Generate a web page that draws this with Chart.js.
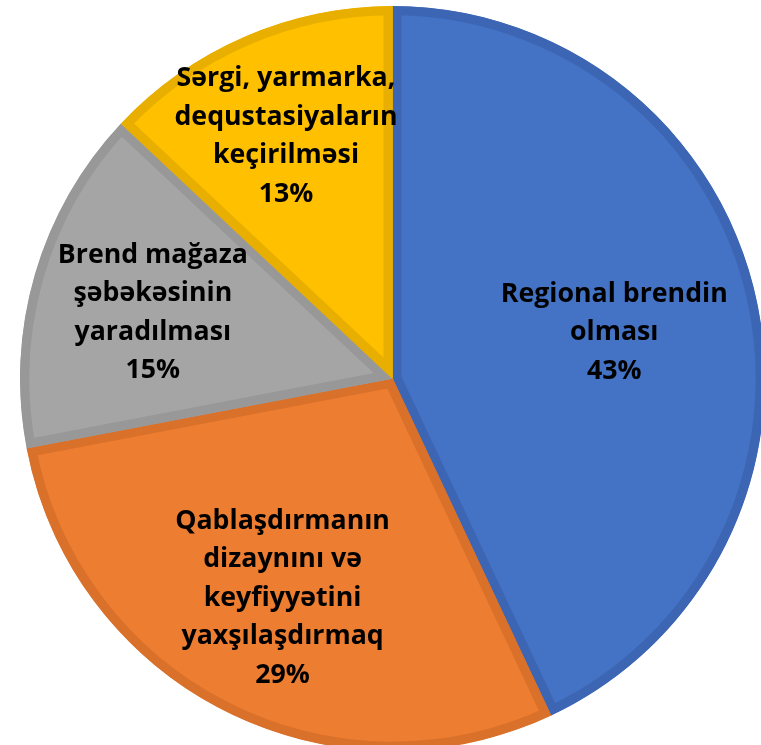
<!DOCTYPE html>
<html>
<head>
<meta charset="utf-8">
<script src="https://cdn.jsdelivr.net/npm/chart.js@4/dist/chart.umd.min.js"></script>
<style>
  html, body { margin: 0; padding: 0; background: #fff; overflow: hidden; }
  #wrap { position: absolute; left: 0; top: 0; width: 800px; height: 770px; }
</style>
</head>
<body>
<div id="wrap"><canvas id="pie" width="800" height="770"></canvas></div>
<script>
// chart data
const labels = [
  ["Regional brendin", "olması"],
  ["Qablaşdırmanın", "dizaynını və", "keyfiyyətini", "yaxşılaşdırmaq"],
  ["Brend mağaza", "şəbəkəsinin", "yaradılması"],
  ["Sərgi, yarmarka,", "dequstasiyaların", "keçirilməsi"]
]
const values = [43, 29, 15, 13]
const percentLabels = ["43%", "29%", "15%", "13%"]

const fillColors = ["#4472C4", "#ED7D31", "#A5A5A5", "#FFC000"]
const edgeColors = ["#3C66B3", "#D9712B", "#989898", "#E8AE00"]
// how far out (fraction of radius) each label block sits
const labelDist = [0.61, 0.65, 0.67, 0.72]

// draws the multi-line labels inside each slice
let SliceLabels = {
  id: "sliceLabels",
  afterDatasetsDraw(chart) {
    const ctx = chart.ctx
    const meta = chart.getDatasetMeta(0)
    const lineH = 38.5
    ctx.save()
    ctx.fillStyle = "#000"
    ctx.font = "bold 26px 'Open Sans', 'Noto Sans', sans-serif"
    ctx.textAlign = "center"
    ctx.textBaseline = "middle"
    // Calibri-like proportions: squeeze to the reference width
    const sx = 227 / ctx.measureText("Regional brendin").width
    meta.data.forEach((arc, i) => {
      const mid = (arc.startAngle + arc.endAngle) / 2
      const r = arc.outerRadius * labelDist[i]
      const cx = arc.x + Math.cos(mid) * r
      const cy = arc.y + Math.sin(mid) * r + 4
      const lines = labels[i].concat([percentLabels[i]])
      const top = cy - (lines.length - 1) * lineH / 2
      lines.forEach((t, j) => {
        ctx.save()
        ctx.translate(cx, top + j * lineH)
        ctx.scale(sx, 1)
        ctx.fillText(t, 0, 0)
        ctx.restore()
      })
    })
    ctx.restore()
  }
}

new Chart(document.getElementById("pie"), {
  type: "pie",
  data: {
    labels: labels.map(l => l.join(" ")),
    datasets: [{
      data: values,
      backgroundColor: fillColors,
      borderColor: edgeColors,
      borderWidth: 9,
      borderAlign: "inner"
    }]
  },
  options: {
    responsive: false,
    animation: false,
    layout: { padding: { left: 20, right: 35, top: 6, bottom: 19 } },
    plugins: {
      legend: { display: false },
      tooltip: { enabled: false }
    }
  },
  plugins: [SliceLabels]
})
</script>
</body>
</html>
